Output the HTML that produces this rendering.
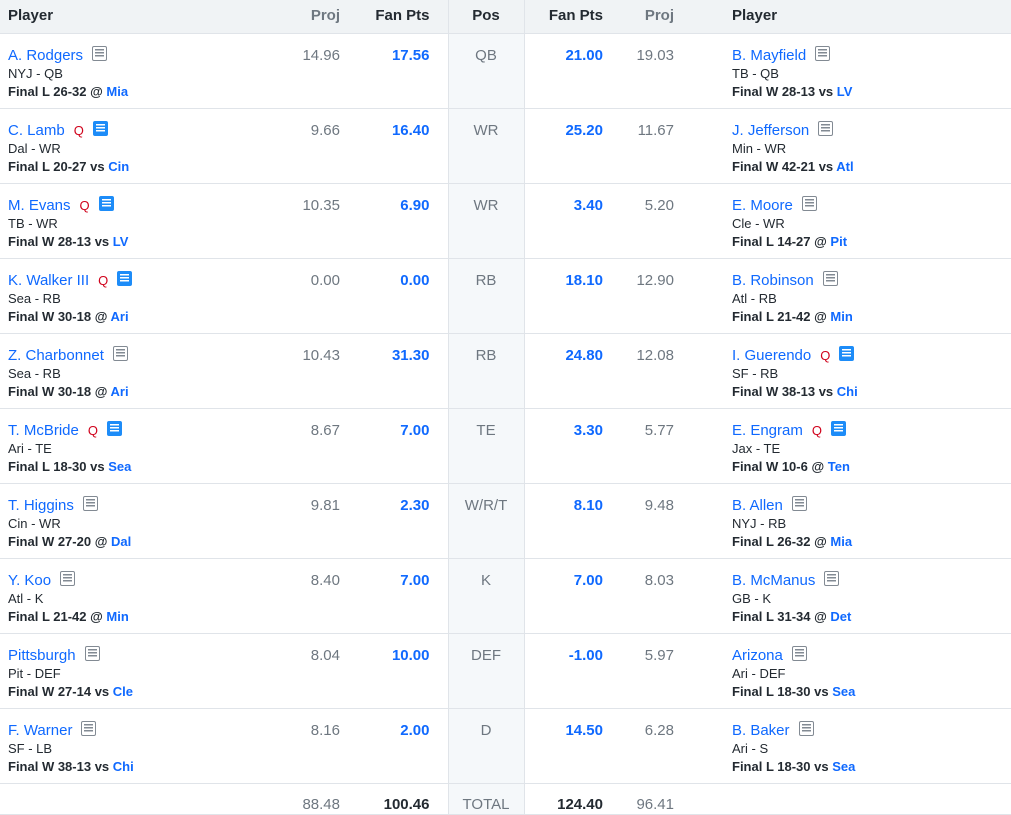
<!DOCTYPE html>
<html><head><meta charset="utf-8"><style>
*{margin:0;padding:0;box-sizing:border-box}
body{width:1011px;height:814px;overflow:hidden;background:#fff;font-family:"Liberation Sans",sans-serif;color:#232a31}
table{border-collapse:collapse;table-layout:fixed;width:1011px}
th{height:33px;background:#f0f3f5;font-size:15px;font-weight:bold;border-bottom:1px solid #e0e4e9;padding:0 10px;color:#232a31;line-height:18px}
td{height:75px;vertical-align:top;border-bottom:1px solid #e0e4e9;padding:12px 10px 0}
.pl{padding-left:8px;text-align:left}
.r{text-align:right}
.c{text-align:center}
.g{color:#6e7780}
.pos{background:#f5f8fa;border-left:1px solid #e0e4e9;border-right:1px solid #e0e4e9;color:#6e7780;font-size:15px;line-height:18px;padding-top:13px}
.num{font-size:15px;line-height:18px;padding-top:13px}
.b{font-weight:bold;color:#0f69ff}
.nm{font-size:15px;line-height:18px;color:#0f69ff;padding-top:0}
.sub{font-size:13px;line-height:18px}
.fin{font-size:13px;line-height:18px;font-weight:bold}
.fin span{color:#0f69ff}
.q{color:#d0021b;font-size:13px;margin-left:9px;font-weight:normal}
.ic{display:inline-block;width:15px;height:15px;border:1.5px solid #828a93;border-radius:2px;vertical-align:-1px;margin-left:9px;position:relative}
.ic:before{content:"";position:absolute;left:2px;right:2px;top:2px;height:8px;background:repeating-linear-gradient(#828a93 0 1.4px,transparent 1.4px 3px)}
.ib{background:#1d8cf8;border-color:#1d8cf8}
.ib:before{background:repeating-linear-gradient(#fff 0 1.4px,transparent 1.4px 3px)}
.tot td{height:30px;padding-top:12px}
</style></head><body>
<table>
<colgroup><col style="width:270px"><col style="width:80px"><col style="width:98px"><col style="width:76px"><col style="width:89px"><col style="width:71px"><col></colgroup>
<tr><th class="pl">Player</th><th class="r g">Proj</th><th class="r" style="padding-right:18px">Fan Pts</th><th class="c pos" style="background:#f0f3f5;color:#232a31;padding-top:0">Pos</th><th class="r">Fan Pts</th><th class="r g">Proj</th><th class="pl" style="padding-left:48px">Player</th></tr>

<tr><td class="pl"><div class="nm">A. Rodgers<i class="ic"></i></div><div class="sub">NYJ - QB</div><div class="fin">Final L 26-32 @ <span>Mia</span></div></td><td class="r num g">14.96</td><td class="r num b" style="padding-right:18px">17.56</td><td class="c pos">QB</td><td class="r num b">21.00</td><td class="r num g">19.03</td><td class="pl" style="padding-left:48px"><div class="nm">B. Mayfield<i class="ic"></i></div><div class="sub">TB - QB</div><div class="fin">Final W 28-13 vs <span>LV</span></div></td></tr>

<tr><td class="pl"><div class="nm">C. Lamb<b class="q">Q</b><i class="ic ib"></i></div><div class="sub">Dal - WR</div><div class="fin">Final L 20-27 vs <span>Cin</span></div></td><td class="r num g">9.66</td><td class="r num b" style="padding-right:18px">16.40</td><td class="c pos">WR</td><td class="r num b">25.20</td><td class="r num g">11.67</td><td class="pl" style="padding-left:48px"><div class="nm">J. Jefferson<i class="ic"></i></div><div class="sub">Min - WR</div><div class="fin">Final W 42-21 vs <span>Atl</span></div></td></tr>

<tr><td class="pl"><div class="nm">M. Evans<b class="q">Q</b><i class="ic ib"></i></div><div class="sub">TB - WR</div><div class="fin">Final W 28-13 vs <span>LV</span></div></td><td class="r num g">10.35</td><td class="r num b" style="padding-right:18px">6.90</td><td class="c pos">WR</td><td class="r num b">3.40</td><td class="r num g">5.20</td><td class="pl" style="padding-left:48px"><div class="nm">E. Moore<i class="ic"></i></div><div class="sub">Cle - WR</div><div class="fin">Final L 14-27 @ <span>Pit</span></div></td></tr>

<tr><td class="pl"><div class="nm">K. Walker III<b class="q">Q</b><i class="ic ib"></i></div><div class="sub">Sea - RB</div><div class="fin">Final W 30-18 @ <span>Ari</span></div></td><td class="r num g">0.00</td><td class="r num b" style="padding-right:18px">0.00</td><td class="c pos">RB</td><td class="r num b">18.10</td><td class="r num g">12.90</td><td class="pl" style="padding-left:48px"><div class="nm">B. Robinson<i class="ic"></i></div><div class="sub">Atl - RB</div><div class="fin">Final L 21-42 @ <span>Min</span></div></td></tr>

<tr><td class="pl"><div class="nm">Z. Charbonnet<i class="ic"></i></div><div class="sub">Sea - RB</div><div class="fin">Final W 30-18 @ <span>Ari</span></div></td><td class="r num g">10.43</td><td class="r num b" style="padding-right:18px">31.30</td><td class="c pos">RB</td><td class="r num b">24.80</td><td class="r num g">12.08</td><td class="pl" style="padding-left:48px"><div class="nm">I. Guerendo<b class="q">Q</b><i class="ic ib"></i></div><div class="sub">SF - RB</div><div class="fin">Final W 38-13 vs <span>Chi</span></div></td></tr>

<tr><td class="pl"><div class="nm">T. McBride<b class="q">Q</b><i class="ic ib"></i></div><div class="sub">Ari - TE</div><div class="fin">Final L 18-30 vs <span>Sea</span></div></td><td class="r num g">8.67</td><td class="r num b" style="padding-right:18px">7.00</td><td class="c pos">TE</td><td class="r num b">3.30</td><td class="r num g">5.77</td><td class="pl" style="padding-left:48px"><div class="nm">E. Engram<b class="q">Q</b><i class="ic ib"></i></div><div class="sub">Jax - TE</div><div class="fin">Final W 10-6 @ <span>Ten</span></div></td></tr>

<tr><td class="pl"><div class="nm">T. Higgins<i class="ic"></i></div><div class="sub">Cin - WR</div><div class="fin">Final W 27-20 @ <span>Dal</span></div></td><td class="r num g">9.81</td><td class="r num b" style="padding-right:18px">2.30</td><td class="c pos">W/R/T</td><td class="r num b">8.10</td><td class="r num g">9.48</td><td class="pl" style="padding-left:48px"><div class="nm">B. Allen<i class="ic"></i></div><div class="sub">NYJ - RB</div><div class="fin">Final L 26-32 @ <span>Mia</span></div></td></tr>

<tr><td class="pl"><div class="nm">Y. Koo<i class="ic"></i></div><div class="sub">Atl - K</div><div class="fin">Final L 21-42 @ <span>Min</span></div></td><td class="r num g">8.40</td><td class="r num b" style="padding-right:18px">7.00</td><td class="c pos">K</td><td class="r num b">7.00</td><td class="r num g">8.03</td><td class="pl" style="padding-left:48px"><div class="nm">B. McManus<i class="ic"></i></div><div class="sub">GB - K</div><div class="fin">Final L 31-34 @ <span>Det</span></div></td></tr>

<tr><td class="pl"><div class="nm">Pittsburgh<i class="ic"></i></div><div class="sub">Pit - DEF</div><div class="fin">Final W 27-14 vs <span>Cle</span></div></td><td class="r num g">8.04</td><td class="r num b" style="padding-right:18px">10.00</td><td class="c pos">DEF</td><td class="r num b">-1.00</td><td class="r num g">5.97</td><td class="pl" style="padding-left:48px"><div class="nm">Arizona<i class="ic"></i></div><div class="sub">Ari - DEF</div><div class="fin">Final L 18-30 vs <span>Sea</span></div></td></tr>

<tr><td class="pl"><div class="nm">F. Warner<i class="ic"></i></div><div class="sub">SF - LB</div><div class="fin">Final W 38-13 vs <span>Chi</span></div></td><td class="r num g">8.16</td><td class="r num b" style="padding-right:18px">2.00</td><td class="c pos">D</td><td class="r num b">14.50</td><td class="r num g">6.28</td><td class="pl" style="padding-left:48px"><div class="nm">B. Baker<i class="ic"></i></div><div class="sub">Ari - S</div><div class="fin">Final L 18-30 vs <span>Sea</span></div></td></tr>

<tr class="tot"><td></td><td class="r num g">88.48</td><td class="r num" style="padding-right:18px;font-weight:bold">100.46</td><td class="c pos">TOTAL</td><td class="r num" style="font-weight:bold">124.40</td><td class="r num g">96.41</td><td></td></tr>
</table>
</body></html>
